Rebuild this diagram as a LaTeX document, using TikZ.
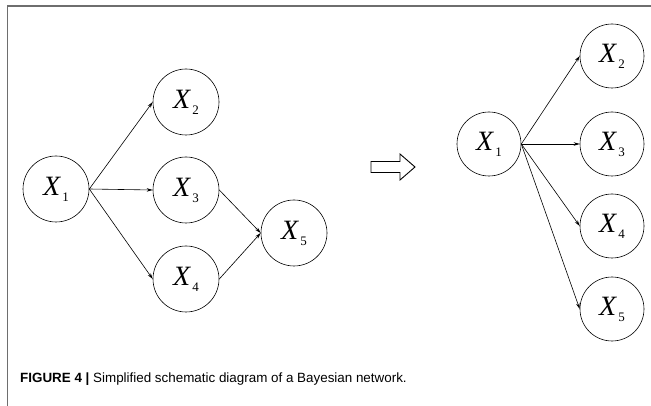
\documentclass[tikz,border=0pt]{standalone}
\usepackage{fontspec}
\setmainfont{Liberation Sans}
\newfontfamily\tms{Liberation Serif}
\usetikzlibrary{arrows.meta}
\definecolor{framegray}{HTML}{6E6E6E}
\newcommand{\xlab}[1]{{\tms\fontsize{28}{28}\selectfont\itshape X}\kern2pt\raisebox{-6pt}{\tms\fontsize{13}{13}\selectfont #1}}
\tikzset{
  bn/.style={draw, circle, minimum size=66pt, inner sep=0pt, line width=0.6pt},
  bnr/.style={bn, minimum size=64pt},
  edge/.style={-{Stealth[length=6pt,width=3.5pt]}, line width=0.6pt},
  framestyle/.style={draw=framegray, line width=1.5pt},
  hollowarrow/.style={draw=black, line width=0.9pt, line join=miter}
}
\begin{document}
\begin{tikzpicture}[x=1pt,y=-1pt]
\useasboundingbox (0,0) rectangle (651,406);
% frame
\draw[framestyle] (651,6) -- (7.5,6) -- (7.5,406);
% left network
\node[bn] (L1) at (56,189) {\xlab{1}};
\node[bn] (L2) at (186,102) {\xlab{2}};
\node[bn] (L3) at (186,190) {\xlab{3}};
\node[bn] (L4) at (186,279) {\xlab{4}};
\node[bn] (L5) at (294,233) {\xlab{5}};
\draw[edge] (L1.east) -- (L2.west);
\draw[edge] (L1.east) -- (L3.west);
\draw[edge] (L1.east) -- (L4.west);
\draw[edge] (L3.east) -- (L5.west);
\draw[edge] (L4.east) -- (L5.west);
% hollow arrow
\draw[hollowarrow] (371,161.5) -- (400,161.5) -- (400,154) -- (415,167) -- (400,180) -- (400,172.5) -- (371,172.5) -- cycle;
% right network
\node[bnr] (R1) at (489,144) {\xlab{1}};
\node[bnr] (R2) at (612,56) {\xlab{2}};
\node[bnr] (R3) at (612,144) {\xlab{3}};
\node[bnr] (R4) at (612,226) {\xlab{4}};
\node[bnr] (R5) at (612,309) {\xlab{5}};
\draw[edge] (R1.east) -- (R2.west);
\draw[edge] (R1.east) -- (R3.west);
\draw[edge] (R1.east) -- (R4.west);
\draw[edge] (R1.east) -- (R5.west);
% caption
\node[anchor=base west, inner sep=0pt] (cap) at (20,382) {\fontsize{13.4}{16}\selectfont\textbf{FIGURE 4 |} Simplified schematic diagram of a Bayesian network.};
\end{tikzpicture}
\end{document}
